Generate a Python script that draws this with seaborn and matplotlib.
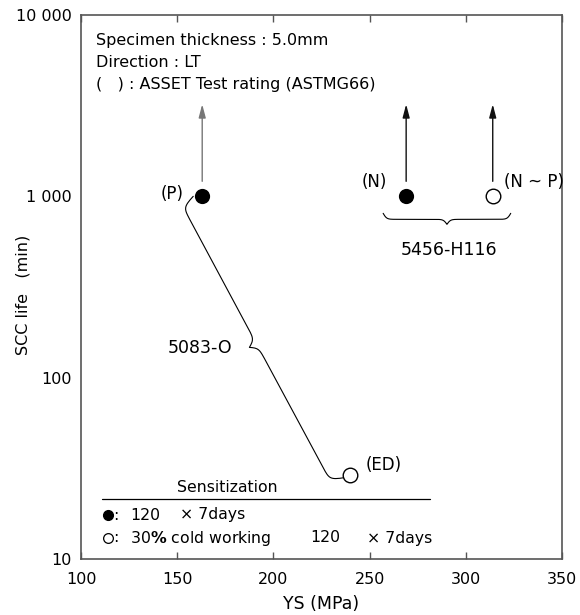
"""
SCC life vs yield strength for 5083-O and 5456-H116 plate.
"""
import numpy as np
import pandas as pd
import matplotlib
matplotlib.use('Agg')
import matplotlib.pyplot as plt
from matplotlib.lines import Line2D
from matplotlib.ticker import NullLocator
import seaborn as sns

# data
YS = [163, 269, 314, 240]
SCC_LIFE = [1000, 1000, 1000, 29]
CONDITION = ['sensitized', 'sensitized', 'cold worked', 'cold worked']
RATING = ['(P)', '(N)', '(N ~ P)', '(ED)']
RUNOUT = [True, True, True, False]
ALLOY = ['5083-O', '5456-H116', '5456-H116', '5083-O']

X_TICKS = [100, 150, 200, 250, 300, 350]
Y_TICKS = [10, 100, 1000, 10000]
Y_TICK_LABELS = ['10', '100', '1 000', '10 000']
NOTES = ['Specimen thickness : 5.0mm', 'Direction : LT',
         '(   ) : ASSET Test rating (ASTMG66)']

W, H = 580, 615


def fig_xy(x, y):
    """image pixel -> figure fraction"""
    return x / W, 1 - y / H


def brace(ax, a, b, plateau, cusp, k):
    """
    Curly brace between display points a and b, bulging to the right
    of the a->b direction. Returns data coordinates.

    """
    a = np.asarray(a, float)
    b = np.asarray(b, float)
    d = b - a
    length = np.hypot(*d)
    t = d / length
    n = np.array([t[1], -t[0]])
    s = np.linspace(0, length / 2, 200)
    h = plateau * np.tanh(s / k) + (cusp - plateau) * (1 + np.tanh((s - length / 2) / k))
    s_all = np.concatenate([s, length - s[::-1]])
    h_all = np.concatenate([h, h[::-1]])
    pts = a + np.outer(s_all, t) + np.outer(h_all, n)
    return ax.transData.inverted().transform(pts)


data = pd.DataFrame({'ys': YS, 'life': SCC_LIFE, 'condition': CONDITION,
                     'rating': RATING, 'runout': RUNOUT, 'alloy': ALLOY})

sns.set_style('ticks')
plt.rcParams['font.family'] = ['DejaVu Sans']
plt.rcParams['text.color'] = 'black'
plt.rcParams['axes.labelcolor'] = 'black'

fig = plt.figure(figsize=(W / 100, H / 100), dpi=100)
ax = fig.add_axes([81 / W, 56 / H, 481 / W, 544 / H])

ax.set_yscale('log')
ax.set_xlim(100, 350)
ax.set_ylim(10, 10000)

sens = data[data['condition'] == 'sensitized']
cold = data[data['condition'] == 'cold worked']
sns.scatterplot(data=sens, x='ys', y='life', color='black', s=120,
                linewidth=0, ax=ax, zorder=5, legend=False)
sns.scatterplot(data=cold, x='ys', y='life', color='white', edgecolor='black',
                s=110, linewidth=1.0, ax=ax, zorder=5, legend=False)

ax.set_xlabel('YS (MPa)', fontsize=12.5, labelpad=6)
ax.set_ylabel('SCC life   (min)', fontsize=11.5)
ax.yaxis.set_label_coords(-0.104, 0.485)

ax.set_xticks(X_TICKS)
ax.set_xticklabels([str(v) for v in X_TICKS])
ax.set_yticks(Y_TICKS)
ax.set_yticklabels(Y_TICK_LABELS)
ax.yaxis.set_minor_locator(NullLocator())
ax.xaxis.set_minor_locator(NullLocator())
ax.tick_params(axis='x', direction='in', top=True, length=5, width=1,
               color='#555555', labelcolor='black', pad=9, labelsize=11.5)
ax.tick_params(axis='y', length=0, pad=6.5, labelsize=11.5, labelcolor='black')
for sp in ax.spines.values():
    sp.set_color('#555555')
    sp.set_linewidth(1.2)

# run-out arrows (test stopped, no failure)
for _, row in data[data['runout']].iterrows():
    col = '#777777' if row['rating'] == '(P)' else '#111111'
    ax.annotate('', xy=(row['ys'], row['life'] * 3.22),
                xytext=(row['ys'], row['life'] * 1.21),
                arrowprops=dict(arrowstyle='-|>,head_length=0.53,head_width=0.14',
                                color=col, lw=1.0, shrinkA=0, shrinkB=0,
                                mutation_scale=15))

# rating labels
offsets = {'(P)': (-19, 2, 'right'), '(N)': (-19, 14, 'right'),
           '(N ~ P)': (11, 14, 'left'), '(ED)': (15, 10, 'left')}
for _, row in data.iterrows():
    dx, dy, ha = offsets[row['rating']]
    ax.annotate(row['rating'], xy=(row['ys'], row['life']), xytext=(dx, dy),
                textcoords='offset pixels', ha=ha, va='center', fontsize=12)

# braces grouping each alloy
p_px = ax.transData.transform((YS[0], SCC_LIFE[0]))
ed_px = ax.transData.transform((YS[3], SCC_LIFE[3]))
br = brace(ax, p_px + (-9, 0), ed_px + (-6, -2.5), 14, 22, 5)
ax.plot(br[:, 0], br[:, 1], color='black', lw=0.8, zorder=3)
mid = ax.transData.inverted().transform((p_px + ed_px) / 2 + (-76, -12))
ax.text(mid[0], mid[1], '5083-O', ha='center', va='center', fontsize=12.5)

n_px = ax.transData.transform((YS[1], SCC_LIFE[1]))
np_px = ax.transData.transform((YS[2], SCC_LIFE[2]))
br = brace(ax, n_px + (-23, -17), np_px + (18, -17), 6, 11, 3.5)
ax.plot(br[:, 0], br[:, 1], color='black', lw=0.8, zorder=3)
mid = ax.transData.inverted().transform((n_px + np_px) / 2 + (0, -54))
ax.text(mid[0], mid[1], '5456-H116', ha='center', va='center', fontsize=12.5)

# notes
for i, line in enumerate(NOTES):
    fig.text(*fig_xy(96, 41 + 21.5 * i), line, ha='left', va='center', fontsize=11.5)

# sensitization key
fig.text(*fig_xy(177, 488), 'Sensitization', ha='left', va='center', fontsize=11.3)
fig.add_artist(Line2D([102 / W, 430 / W], [1 - 499 / H] * 2, color='black', lw=0.9,
                      transform=fig.transFigure))
fig.add_artist(Line2D([108 / W], [1 - 515 / H], marker='o', ms=7, color='black',
                      mec='black', lw=0, transform=fig.transFigure))
fig.add_artist(Line2D([108 / W], [1 - 538 / H], marker='o', ms=7, color='black',
                      mfc='white', mec='black', mew=0.9, lw=0,
                      transform=fig.transFigure))
fig.text(*fig_xy(113, 515), ':', ha='left', va='center', fontsize=11.3)
fig.text(*fig_xy(130, 515), '120', ha='left', va='center', fontsize=11.3)
fig.text(*fig_xy(180, 515), '\u00d7 7days', ha='left', va='center', fontsize=11.3)
fig.text(*fig_xy(113, 538), ':', ha='left', va='center', fontsize=11.3)
fig.text(*fig_xy(130, 538), r'30$\mathbf{\%}$ cold working', ha='left', va='center',
         fontsize=11.3)
fig.text(*fig_xy(310, 538), '120', ha='left', va='center', fontsize=11.3)
fig.text(*fig_xy(367, 538), '\u00d7 7days', ha='left', va='center', fontsize=11.3)

fig.savefig('out.png', dpi=100)
